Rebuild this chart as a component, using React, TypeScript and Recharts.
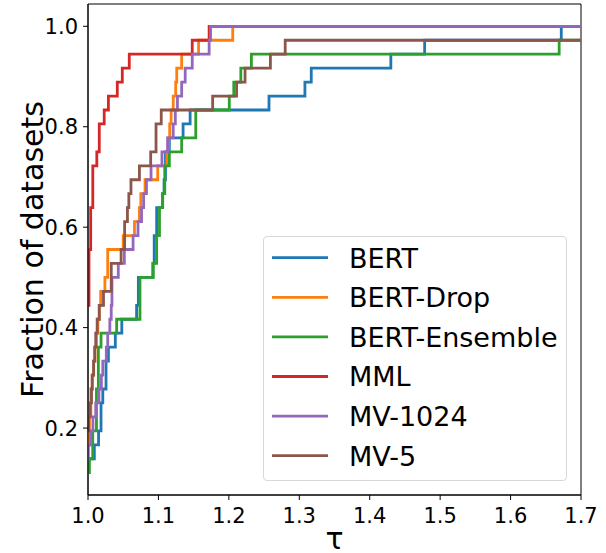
import React from 'react';
import { LineChart, Line, XAxis, YAxis, Legend, ReferenceArea, Label } from 'recharts';

const NUM_DATASETS = 36;

const SERIES_NAMES = ['BERT', 'BERT-Drop', 'BERT-Ensemble', 'MML', 'MV-1024', 'MV-5'];
const SERIES_COLORS = ['#1f77b4', '#ff7f0e', '#2ca02c', '#d62728', '#9467bd', '#8c564b'];

const X_TICKS = [1.0, 1.1, 1.2, 1.3, 1.4, 1.5, 1.6, 1.7];
const Y_TICKS = [0.2, 0.4, 0.6, 0.8, 1.0];

// performance-profile breakpoints (tau) and number of datasets solved
const TAU_BERT = [1.0, 1.009, 1.015, 1.0185, 1.021, 1.0256, 1.029, 1.0388, 1.048, 1.069, 1.0715, 1.092, 1.094, 1.0975, 1.106, 1.108, 1.11, 1.1155, 1.135, 1.145, 1.257, 1.308, 1.317, 1.43, 1.478, 1.672, 1.7];
const CNT_BERT = [5, 6, 7, 9, 10, 12, 13, 14, 15, 16, 18, 19, 21, 23, 24, 25, 27, 28, 29, 30, 31, 32, 33, 34, 35, 36, 36];

const TAU_DROP = [1.0, 1.002, 1.004, 1.006, 1.008, 1.01, 1.012, 1.014, 1.016, 1.018, 1.024, 1.028, 1.05, 1.066, 1.073, 1.075, 1.081, 1.099, 1.112, 1.114, 1.116, 1.118, 1.121, 1.1245, 1.126, 1.133, 1.157, 1.2055, 1.7];
const CNT_DROP = [6, 8, 10, 11, 12, 13, 14, 15, 16, 17, 18, 20, 21, 22, 23, 24, 25, 26, 27, 28, 29, 30, 31, 32, 33, 34, 35, 36, 36];

const TAU_ENS = [1.0, 1.002, 1.0067, 1.012, 1.0147, 1.0185, 1.0407, 1.0738, 1.0927, 1.0975, 1.1015, 1.106, 1.109, 1.1155, 1.133, 1.153, 1.2006, 1.207, 1.217, 1.232, 1.669, 1.7];
const CNT_ENS = [4, 5, 7, 10, 13, 14, 15, 18, 19, 21, 23, 24, 26, 27, 28, 30, 31, 32, 33, 34, 35, 35];

const TAU_MML = [1.0, 1.0014, 1.0038, 1.0068, 1.0125, 1.016, 1.023, 1.029, 1.0416, 1.0487, 1.0586, 1.148, 1.172, 1.7];
const CNT_MML = [16, 20, 23, 26, 27, 29, 30, 31, 32, 33, 34, 35, 36, 36];

const TAU_MV1024 = [1.0, 1.0005, 1.004, 1.007, 1.011, 1.0155, 1.019, 1.021, 1.026, 1.028, 1.031, 1.033, 1.034, 1.043, 1.0516, 1.064, 1.071, 1.076, 1.079, 1.083, 1.0895, 1.105, 1.113, 1.121, 1.124, 1.127, 1.133, 1.138, 1.148, 1.172, 1.174, 1.7];
const CNT_MV1024 = [5, 6, 7, 8, 9, 10, 11, 12, 13, 14, 15, 16, 18, 19, 20, 21, 22, 23, 24, 25, 26, 27, 28, 29, 30, 31, 32, 33, 34, 35, 36, 36];

const TAU_MV5 = [1.0, 1.001, 1.003, 1.005, 1.006, 1.008, 1.0095, 1.011, 1.013, 1.016, 1.022, 1.033, 1.047, 1.052, 1.056, 1.058, 1.061, 1.073, 1.089, 1.0966, 1.104, 1.177, 1.211, 1.223, 1.259, 1.28, 1.7];
const CNT_MV5 = [7, 8, 9, 10, 11, 12, 13, 14, 15, 16, 17, 19, 20, 22, 23, 24, 25, 26, 27, 29, 30, 31, 32, 33, 34, 35, 35];

const TAUS = [TAU_BERT, TAU_DROP, TAU_ENS, TAU_MML, TAU_MV1024, TAU_MV5];
const COUNTS = [CNT_BERT, CNT_DROP, CNT_ENS, CNT_MML, CNT_MV1024, CNT_MV5];

const X_MIN = 1.0;
const X_MAX = 1.7;
const Y_MIN = 0.0667;
const Y_MAX = 1.0444;

const FONT = '"DejaVu Sans", sans-serif';

const seriesData = TAUS.map((taus, s) =>
  taus.map((t, i) => ({ tau: t, frac: COUNTS[s][i] / NUM_DATASETS }))
);

const LegendBox = () => {
  const rowH = 39.6;
  const first = 21.7;
  return (
    <div
      style={{
        width: 304,
        height: 245,
        boxSizing: 'border-box',
        border: '1px solid #d8d8d8',
        borderRadius: 4,
        background: 'rgba(255,255,255,0.85)',
        position: 'relative',
      }}
    >
      <svg width={304} height={245} style={{ position: 'absolute', left: -1, top: -1 }}>
        {SERIES_NAMES.map((name, i) => {
          const cy = first + rowH * i;
          return (
            <g key={name}>
              <line x1={9} x2={65} y1={cy} y2={cy} stroke={SERIES_COLORS[i]} strokeWidth={2.8} />
              <text x={86} y={cy + 9.8} fontSize={27} fontFamily={FONT} fill="#000">
                {name}
              </text>
            </g>
          );
        })}
      </svg>
    </div>
  );
};

export default function App() {
  return (
    <div style={{ position: 'absolute', left: 0, top: 0, background: '#fff' }}>
      <LineChart
        width={606}
        height={553}
        margin={{ top: 4, right: 25, bottom: 0, left: 0 }}
      >
        <XAxis
          type="number"
          dataKey="tau"
          domain={[X_MIN, X_MAX]}
          ticks={X_TICKS}
          allowDataOverflow
          tickFormatter={(v: number) => v.toFixed(1)}
          height={58}
          tickSize={5}
          tickMargin={8}
          stroke="#000"
          tick={{ fill: '#000', fontSize: 21, fontFamily: FONT }}
        >
          <Label
            content={() => (
              <text x={334.5} y={549} textAnchor="middle" fontSize={30} fontFamily={FONT} fill="#000">
                τ
              </text>
            )}
          />
        </XAxis>
        <YAxis
          type="number"
          domain={[Y_MIN, Y_MAX]}
          ticks={Y_TICKS}
          allowDataOverflow
          tickFormatter={(v: number) => v.toFixed(1)}
          width={88}
          tickSize={5}
          tickMargin={5}
          stroke="#000"
          tick={{ fill: '#000', fontSize: 21, fontFamily: FONT }}
        >
          <Label
            content={() => (
              <text
                x={43}
                y={249.5}
                transform="rotate(-90 43 249.5)"
                textAnchor="middle"
                fontSize={30}
                fontFamily={FONT}
                fill="#000"
              >
                Fraction of datasets
              </text>
            )}
          />
        </YAxis>
        <ReferenceArea
          x1={X_MIN}
          x2={X_MAX}
          y1={Y_MIN}
          y2={Y_MAX}
          fill="none"
          stroke="#000"
          strokeWidth={1}
          ifOverflow="visible"
        />
        {SERIES_NAMES.map((name, i) => (
          <Line
            key={name}
            name={name}
            data={seriesData[i]}
            dataKey="frac"
            type="stepAfter"
            stroke={SERIES_COLORS[i]}
            strokeWidth={2.8}
            dot={false}
            activeDot={false}
            isAnimationActive={false}
          />
        ))}
        <Legend
          layout="vertical"
          align="center"
          verticalAlign="middle"
          content={() => <LegendBox />}
          wrapperStyle={{ position: 'absolute', left: 263, top: 236, width: 304, height: 245 }}
        />
      </LineChart>
    </div>
  );
}
